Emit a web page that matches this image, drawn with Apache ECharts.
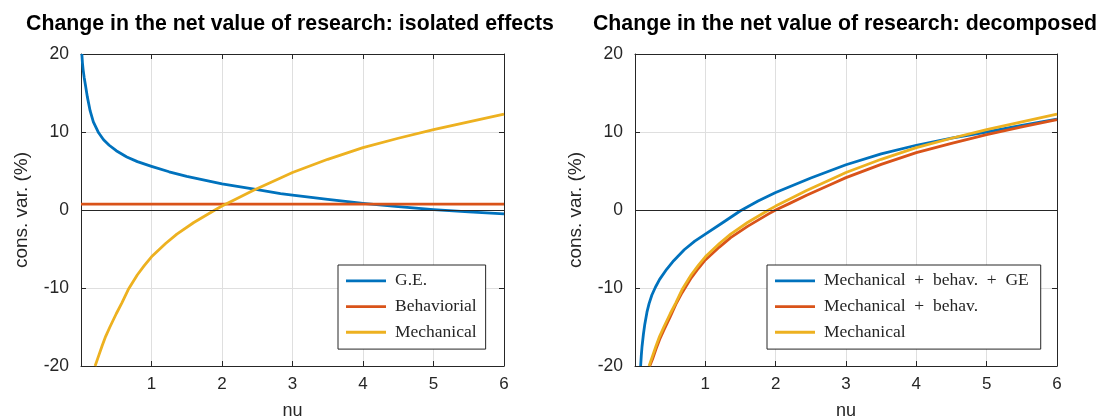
<!DOCTYPE html>
<html>
<head>
<meta charset="utf-8">
<script src="https://cdn.jsdelivr.net/npm/echarts@6/dist/echarts.min.js"></script>
<style>
  html, body { margin: 0; padding: 0; background: #ffffff; }
  #chart { width: 1101px; height: 420px; }
</style>
</head>
<body>
<div id="chart"></div>
<script>
// Panel titles and legend labels
const titleLeft = 'Change in the net value of research: isolated effects';
const titleRight = 'Change in the net value of research: decomposed';
const xName = 'nu';
const yName = 'cons. var. (%)';
const namesLeft = ['G.E.', 'Behaviorial', 'Mechanical'];
const namesRight = ['Mechanical + behav. + GE', 'Mechanical + behav.', 'Mechanical'];

// Axis ticks
const xTicks = [0, 1, 2, 3, 4, 5, 6];
const yTicks = [-20, -10, 0, 10, 20];

// General-equilibrium effect alone
const geNu  = [0.012, 0.02, 0.03, 0.045, 0.065, 0.09, 0.13, 0.175, 0.25, 0.32, 0.4, 0.5, 0.65, 0.8, 1.0, 1.25, 1.5, 2.0, 2.5, 2.83, 3.0, 3.5, 4.0, 4.5, 5.0, 5.5, 6.0];
const geVal = [20, 18.9, 18.0, 17.0, 15.9, 14.5, 12.7, 11.3, 9.9, 9.0, 8.3, 7.6, 6.8, 6.2, 5.6, 4.9, 4.3, 3.35, 2.6, 2.1, 1.9, 1.35, 0.85, 0.42, 0.05, -0.25, -0.5];

// Behavioural effect alone (flat)
const behavNu  = [0, 6];
const behavVal = [0.75, 0.75];

// Mechanical effect alone
const mechNu  = [0.2, 0.25, 0.3, 0.35, 0.41, 0.5, 0.58, 0.67, 0.8, 0.9, 1.0, 1.2, 1.36, 1.6, 1.9, 2.0, 2.2, 2.44, 2.83, 3.0, 3.5, 4.0, 4.5, 5.0, 5.5, 6.0];
const mechVal = [-20, -18.7, -17.4, -16.2, -15.0, -13.3, -11.9, -10.2, -8.3, -7.1, -6.0, -4.3, -3.1, -1.6, 0.0, 0.5, 1.4, 2.5, 4.1, 4.8, 6.5, 8.0, 9.2, 10.3, 11.3, 12.3];

// Mechanical + behavioural
const mbNu  = [0.21, 0.25, 0.3, 0.35, 0.41, 0.5, 0.58, 0.67, 0.8, 0.9, 1.0, 1.2, 1.36, 1.6, 1.9, 2.0, 2.2, 2.44, 2.83, 3.0, 3.5, 4.0, 4.5, 5.0, 5.5, 6.0];
const mbVal = [-20, -19.1, -17.8, -16.6, -15.4, -13.7, -12.1, -10.6, -8.7, -7.5, -6.4, -4.75, -3.55, -2.1, -0.5, 0.0, 0.85, 1.9, 3.45, 4.15, 5.85, 7.35, 8.55, 9.65, 10.65, 11.6];

// Mechanical + behavioural + general equilibrium
const totNu  = [0.08, 0.09, 0.1, 0.12, 0.14, 0.17, 0.2, 0.24, 0.29, 0.35, 0.45, 0.55, 0.7, 0.85, 1.0, 1.25, 1.5, 1.75, 2.0, 2.5, 3.0, 3.5, 4.0, 4.5, 5.0, 5.5, 6.0];
const totVal = [-20, -18.6, -17.5, -15.9, -14.6, -13.1, -12.0, -10.9, -9.9, -8.9, -7.6, -6.5, -5.1, -4.0, -3.1, -1.6, -0.1, 1.15, 2.25, 4.1, 5.8, 7.2, 8.3, 9.2, 10.0, 10.85, 11.65];

const C_BLUE = '#0072BD', C_RED = '#D95319', C_YEL = '#EDB120';
const INK = '#262626';
const SANS = '"Liberation Sans", Arial, Helvetica, sans-serif';
const SERIF = '"Liberation Serif", "Times New Roman", serif';

const zip = (xs, ys) => xs.map((x, i) => [x, ys[i]]);

const grids = [
  { left: 81, top: 54, width: 423, height: 312, outerBoundsMode: 'none', containLabel: false },
  { left: 635, top: 54, width: 422, height: 312, outerBoundsMode: 'none', containLabel: false }
];

function mainX(gi) {
  return {
    type: 'value', gridIndex: gi, position: 'bottom',
    min: xTicks[0], max: xTicks[xTicks.length - 1], interval: 1,
    name: xName, nameLocation: 'middle', nameGap: 36,
    nameTextStyle: { fontFamily: SANS, fontSize: 18, color: INK },
    axisLine: { show: true, onZero: false, lineStyle: { color: INK, width: 1 } },
    axisTick: { show: true, inside: true, length: 5, lineStyle: { color: INK } },
    axisLabel: {
      fontFamily: SANS, fontSize: 17, color: INK, margin: 10,
      formatter: v => (v === 0 ? '' : String(v))
    },
    splitLine: { show: true, lineStyle: { color: '#dfdfdf', width: 1 } }
  };
}
function topX(gi) {
  return {
    type: 'value', gridIndex: gi, position: 'top',
    min: xTicks[0], max: xTicks[xTicks.length - 1], interval: 1,
    axisLine: { show: true, onZero: false, lineStyle: { color: INK, width: 1 } },
    axisTick: { show: true, inside: true, length: 5, lineStyle: { color: INK } },
    axisLabel: { show: false }, splitLine: { show: false }
  };
}
function mainY(gi) {
  return {
    type: 'value', gridIndex: gi, position: 'left',
    min: yTicks[0], max: yTicks[yTicks.length - 1], interval: 10,
    name: yName, nameLocation: 'middle', nameGap: 50, nameRotate: 90,
    nameTextStyle: { fontFamily: SANS, fontSize: 19, color: INK },
    axisLine: { show: true, onZero: false, lineStyle: { color: INK, width: 1 } },
    axisTick: { show: true, inside: true, length: 5, lineStyle: { color: INK } },
    axisLabel: { fontFamily: SANS, fontSize: 17.5, color: INK, margin: 12 },
    splitLine: { show: true, lineStyle: { color: '#dfdfdf', width: 1 } }
  };
}
function rightY(gi) {
  return {
    type: 'value', gridIndex: gi, position: 'right',
    min: yTicks[0], max: yTicks[yTicks.length - 1], interval: 10,
    axisLine: { show: true, onZero: false, lineStyle: { color: INK, width: 1 } },
    axisTick: { show: true, inside: true, length: 5, lineStyle: { color: INK } },
    axisLabel: { show: false }, splitLine: { show: false }
  };
}

const zeroLine = {
  silent: true, symbol: 'none', label: { show: false },
  lineStyle: { color: INK, width: 1, type: 'solid' },
  data: [{ yAxis: 0 }]
};

function curve(name, color, xs, ys, xi, yi, extra) {
  return Object.assign({
    name, type: 'line', xAxisIndex: xi, yAxisIndex: yi,
    data: zip(xs, ys), showSymbol: false, symbol: 'none',
    smooth: false, clip: true,
    lineStyle: { color, width: 2.8, join: 'round' }, itemStyle: { color },
    emphasis: { disabled: true }, animation: false
  }, extra || {});
}

// LaTeX-style spacing around the plus signs
const mathSpacing = s => s.replace(/ \+ /g, '\u2002+\u2002');

function legend(names, left, padRight) {
  return {
    data: names, orient: 'vertical', left, top: 265,
    icon: 'rect', itemWidth: 40, itemHeight: 2.8, itemGap: 0,
    padding: [3, padRight, 4, 8], selectedMode: false,
    formatter: mathSpacing,
    backgroundColor: '#ffffff', borderColor: INK, borderWidth: 1, borderRadius: 0,
    textStyle: { fontFamily: SERIF, fontSize: 17.5, color: INK, lineHeight: 25.7, padding: [0, 0, 0, 4] }
  };
}

const chart = echarts.init(document.getElementById('chart'), null, { renderer: 'canvas' });
chart.setOption({
  animation: false,
  backgroundColor: '#ffffff',
  title: [
    { text: titleLeft, left: 285, top: 9, textAlign: 'center',
      textStyle: { fontFamily: SANS, fontSize: 21.3, fontWeight: 'bold', color: '#000' } },
    { text: titleRight, left: 840, top: 9, textAlign: 'center',
      textStyle: { fontFamily: SANS, fontSize: 21.3, fontWeight: 'bold', color: '#000' } }
  ],
  grid: grids,
  xAxis: [mainX(0), topX(0), mainX(1), topX(1)],
  yAxis: [mainY(0), rightY(0), mainY(1), rightY(1)],
  legend: [legend(namesLeft, 338, 9), legend(namesRight, 767, 12)],
  series: [
    curve(namesLeft[0], C_BLUE, geNu, geVal, 0, 0, { markLine: zeroLine }),
    curve(namesLeft[1], C_RED, behavNu, behavVal, 0, 0),
    curve(namesLeft[2], C_YEL, mechNu, mechVal, 0, 0),
    curve(namesRight[0], C_BLUE, totNu, totVal, 2, 2, { markLine: zeroLine }),
    curve(namesRight[1], C_RED, mbNu, mbVal, 2, 2),
    curve(namesRight[2], C_YEL, mechNu, mechVal, 2, 2)
  ]
});
</script>
</body>
</html>
